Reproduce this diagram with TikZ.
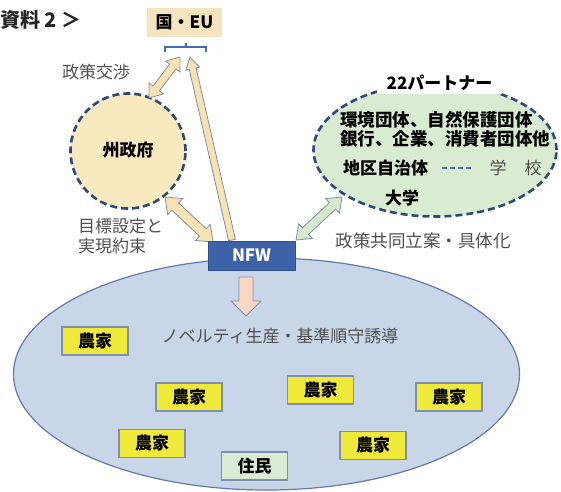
\documentclass[tikz,border=0pt]{standalone}
\usepackage{fontspec}
\setmainfont{Noto Sans CJK JP}
\usetikzlibrary{calc,shapes.geometric}
\definecolor{txtgray}{HTML}{505050}
\definecolor{tanfill}{HTML}{F9E9BF}
\definecolor{eufill}{HTML}{F6E4BE}
\definecolor{arrtan}{HTML}{F7E3B1}
\definecolor{navy}{HTML}{2E4A7D}
\definecolor{arrborder}{HTML}{7F8FAF}
\definecolor{greenfill}{HTML}{D9EBD1}
\definecolor{arrgreen}{HTML}{D6EACB}
\definecolor{bigfill}{HTML}{C9D6E8}
\definecolor{bigborder}{HTML}{6679AE}
\definecolor{nfwfill}{HTML}{3D62A8}
\definecolor{nfwborder}{HTML}{2E4F8F}
\definecolor{yfill}{HTML}{EFE93A}
\definecolor{pinkfill}{HTML}{F9D7C2}
\definecolor{bracketblue}{HTML}{3F6DB8}
\definecolor{residentfill}{HTML}{DCEBD6}

\newcommand\blkarrow[6]{% style, from, to, shaft half width, head half width, head length
  \coordinate (ba-h) at ($(#3)!#6!(#2)$);
  \path[#1] ($(#2)!#4!90:(#3)$) -- ($(ba-h)!#4!90:(#3)$) -- ($(ba-h)!#5!90:(#3)$) -- (#3)
    -- ($(ba-h)!#5!-90:(#3)$) -- ($(ba-h)!#4!-90:(#3)$) -- ($(#2)!#4!-90:(#3)$) -- cycle;
}
\newcommand\dblarrow[6]{%
  \coordinate (da-a) at ($(#2)!#6!(#3)$);
  \coordinate (da-b) at ($(#3)!#6!(#2)$);
  \path[#1] (#2) -- ($(da-a)!#5!90:(#3)$) -- ($(da-a)!#4!90:(#3)$) -- ($(da-b)!#4!90:(#3)$)
    -- ($(da-b)!#5!90:(#3)$) -- (#3) -- ($(da-b)!#5!-90:(#3)$) -- ($(da-b)!#4!-90:(#3)$)
    -- ($(da-a)!#4!-90:(#3)$) -- ($(da-a)!#5!-90:(#3)$) -- cycle;
}

\tikzset{
  graytext/.style={font=\fontsize{17}{20}\selectfont, text=txtgray, inner sep=0pt},
  blacktext/.style={font=\fontsize{17}{20}\selectfont\bfseries, text=black, inner sep=0pt},
  dashring/.style={draw=navy, line width=2.6pt, dash pattern=on 7pt off 4pt},
  farmer/.style={draw=arrborder, line width=1.2pt, fill=yfill, minimum width=66pt, minimum height=28pt, inner sep=0pt, font=\fontsize{17}{20}\selectfont\bfseries},
  resident/.style={farmer, fill=residentfill},
  tanarrow/.style={fill=arrtan, draw=arrborder, line width=0.8pt, line join=miter},
  greenarrow/.style={fill=arrgreen, draw=arrborder, line width=0.8pt},
  pinkarrow/.style={fill=pinkfill, draw=arrborder, line width=0.8pt},
}

\begin{document}
\begin{tikzpicture}[x=1pt, y=-1pt]
\useasboundingbox (0,0) rectangle (561,491);

% big ellipse
\node[ellipse, draw=bigborder, line width=1.2pt, fill=bigfill, minimum width=506pt, minimum height=232pt, inner sep=0pt] (field) at (266.5,374) {};

% title
\node[anchor=west, font=\fontsize{20}{22}\selectfont\bfseries, text=black!85, inner sep=0pt] (title) at (0,20) {資料 2 ＞};

% EU box
\node[fill=eufill, minimum width=75pt, minimum height=29pt, inner sep=0pt, blacktext] (eu) at (184.5,22.5) {国・EU};
\coordinate (brL) at (165,52);
\coordinate (brR) at (206,52);
\coordinate (brM) at (186,43);
\draw[bracketblue, line width=1.4pt] (brL) -- ++(0,-5) -- ($(brR)+(0,-5)$) -- (brR);
\draw[bracketblue, line width=1.4pt] (brM) -- ++(0,4);

% state government
\node[circle, dashring, fill=tanfill, minimum size=115pt, inner sep=0pt] (state) at (128,151) {};
\node[blacktext] (statelbl) at (128,150) {州政府};

% partners ellipse
\node[ellipse, dashring, fill=greenfill, minimum width=243pt, minimum height=133pt, inner sep=0pt] (partners) at (435,150) {};
\node[fill=white, minimum width=125pt, minimum height=22pt, inner sep=0pt, blacktext] (plabel) at (439.5,83) {22パートナー};
\node[blacktext, font=\fontsize{17.5}{20}\selectfont\bfseries, anchor=west] (p1) at (340,120) {環境団体、自然保護団体};
\node[blacktext, font=\fontsize{17.5}{20}\selectfont\bfseries, anchor=west] (p2) at (340,139) {銀行、企業、消費者団体他};
\node[blacktext, anchor=west] (chiku) at (343,168) {地区自治体};
\node[graytext] (gaku) at (498,168) {学};
\node[graytext] (kou) at (533,168) {校};
\node[blacktext] (daigaku) at (402,198) {大学};
\draw[bracketblue, line width=2pt, dash pattern=on 5pt off 3pt] ([xshift=14pt]chiku.east) -- ([xshift=-16pt]gaku.west);

% labels
\node[graytext] (negot) at (96,72) {政策交渉};
\node[graytext, anchor=north west, align=left] (goal) at (78,218) {目標設定と\\[0pt]実現約束};
\node[graytext, font=\fontsize{17.5}{20}\selectfont] (policy) at (423,241) {政策共同立案・具体化};
\node[graytext] (novelty) at (280,336) {ノベルティ生産・基準順守誘導};

% farmers
\node[farmer] (f1) at (95,341) {農家};
\node[farmer] (f2) at (189,397) {農家};
\node[farmer] (f3) at (320.5,390) {農家};
\node[farmer] (f4) at (449,397) {農家};
\node[farmer] (f5) at (152,443.5) {農家};
\node[farmer] (f6) at (373,445.5) {農家};
\node[resident] (res) at (254.5,466) {住民};

% arrows
\coordinate (aStateIn) at (165,197);
\coordinate (aNfwNW) at (213,242);
\dblarrow{tanarrow}{aStateIn}{aNfwNW}{5pt}{11pt}{14pt}

\coordinate (aNfwUp) at (232,240);
\coordinate (aBrTip) at (190,57);
\blkarrow{tanarrow}{aNfwUp}{aBrTip}{3.5pt}{7pt}{12pt}

\coordinate (aStateTop) at (149,98);
\coordinate (aBrLeft) at (180,57);
\dblarrow{tanarrow}{aStateTop}{aBrLeft}{4pt}{9pt}{12pt}

\coordinate (aNfwNE) at (296,240);
\coordinate (aPartners) at (342,197);
\dblarrow{greenarrow}{aNfwNE}{aPartners}{4.5pt}{10pt}{13pt}

\coordinate (aDownStart) at (246,277);
\coordinate (aDownTip) at (246,316);
\blkarrow{pinkarrow}{aDownStart}{aDownTip}{7pt}{15pt}{15pt}

% NFW box
\node[fill=nfwfill, draw=nfwborder, line width=1pt, minimum width=87pt, minimum height=29pt, inner sep=0pt, text=white, font=\fontsize{17}{20}\selectfont\bfseries] (nfw) at (251.5,255.5) {NFW};
\end{tikzpicture}
\end{document}
